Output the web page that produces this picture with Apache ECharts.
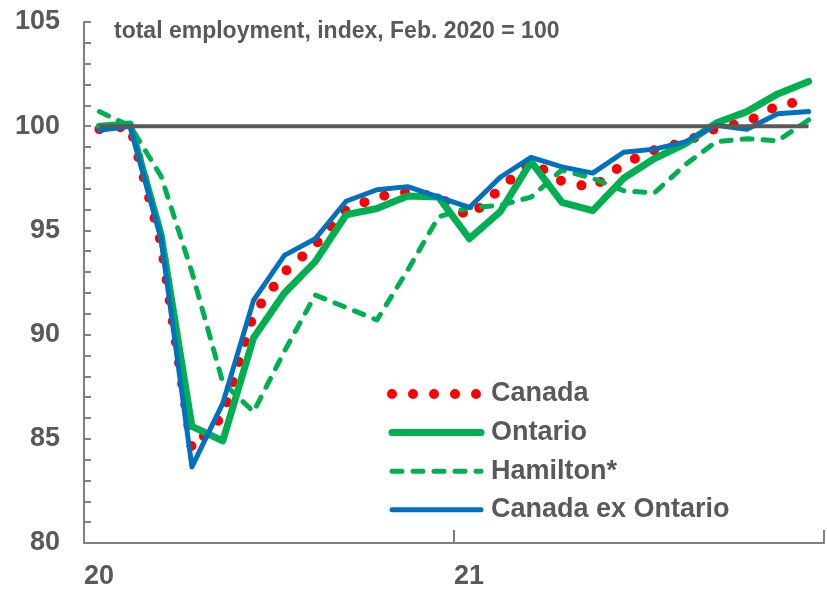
<!DOCTYPE html>
<html>
<head>
<meta charset="utf-8">
<script src="https://cdn.jsdelivr.net/npm/echarts@6/dist/echarts.min.js"></script>
<style>
html,body{margin:0;padding:0;background:#fff;}
#chart{width:827px;height:590px;}
</style>
</head>
<body>
<div id="chart"></div>
<script>
// Monthly categories, Jan 2020 - Dec 2021
var months = ['Jan 20','Feb 20','Mar 20','Apr 20','May 20','Jun 20','Jul 20','Aug 20','Sep 20','Oct 20','Nov 20','Dec 20',
              'Jan 21','Feb 21','Mar 21','Apr 21','May 21','Jun 21','Jul 21','Aug 21','Sep 21','Oct 21','Nov 21','Dec 21'];
// Year labels placed at category boundaries (25 boundaries)
var yearLabels = ['20','','','','','','','','','','','','21','','','','','','','','','','','',''];

var canada    = [99.85,100.0,94.4,84.5,86.1,91.0,93.0,94.3,96.0,96.6,96.85,96.6,95.65,97.0,98.3,97.35,97.05,98.2,98.85,99.25,99.9,100.2,101.0,101.25];
var ontario   = [100.0,100.1,94.8,85.6,84.9,89.85,92.0,93.5,95.75,96.05,96.65,96.6,94.6,95.9,98.3,96.35,95.95,97.5,98.45,99.15,100.15,100.7,101.55,102.15];
var hamilton  = [100.7,100.0,97.6,93.0,87.7,86.3,89.2,91.9,91.3,90.7,93.1,95.65,96.1,96.2,96.6,97.9,97.5,96.9,96.8,98.15,99.25,99.4,99.3,100.3];
var canExOnt  = [99.8,100.0,94.6,83.65,86.7,91.65,93.8,94.6,96.4,96.95,97.1,96.6,96.1,97.55,98.5,98.05,97.75,98.75,98.9,99.25,100.05,99.85,100.6,100.7];
var baseLine  = [100,100,100,100,100,100,100,100,100,100,100,100,100,100,100,100,100,100,100,100,100,100,100,100];

var seriesNames = ['Canada','Ontario','Hamilton*','Canada ex Ontario'];
var titleText = 'total employment, index, Feb. 2020 = 100';

var TXT = '#595959';
var AX = '#808080';
var FONT = '"Liberation Sans", Arial, sans-serif';

var chart = echarts.init(document.getElementById('chart'), null, {renderer:'canvas'});
chart.setOption({
  animation: false,
  backgroundColor: '#ffffff',
  title: {
    text: titleText,
    left: 109, top: 15,
    textStyle: {fontFamily: FONT, fontSize: 23, fontWeight: 'bold', color: TXT}
  },
  grid: {left: 84, right: 2, top: 22, bottom: 47, containLabel: false},
  legend: {
    orient: 'vertical',
    left: 382, top: 375,
    itemWidth: 89, itemHeight: 14, itemGap: 10.6,
    data: seriesNames,
    itemStyle: {opacity: 0},
    lineStyle: {width: 'inherit'},
    textStyle: {fontFamily: FONT, fontSize: 27, fontWeight: 'bold', color: TXT, lineHeight: 28, padding: [0,0,0,5]}
  },
  xAxis: [{
    type: 'category',
    data: months,
    boundaryGap: true,
    position: 'bottom',
    axisLine: {show: true, lineStyle: {color: AX, width: 2}},
    axisTick: {show: true, inside: true, length: 13, interval: function(i){ return i % 12 === 0; }, lineStyle: {color: AX, width: 2}},
    axisLabel: {show: false},
    splitLine: {show: false}
  }, {
    type: 'category',
    data: yearLabels,
    boundaryGap: false,
    position: 'bottom',
    axisLine: {show: false},
    axisTick: {show: false},
    axisLabel: {show: true, interval: 0, align: 'left', margin: 20,
      fontFamily: FONT, fontSize: 27, fontWeight: 'bold', color: TXT},
    splitLine: {show: false}
  }],
  yAxis: {
    type: 'value',
    min: 80, max: 105, interval: 5,
    axisLine: {show: true, lineStyle: {color: AX, width: 2}},
    axisTick: {show: true, inside: true, length: 7, lineStyle: {color: AX, width: 2}},
    minorTick: {show: true, splitNumber: 5, length: 7, lineStyle: {color: AX, width: 2}},
    axisLabel: {margin: 24, fontFamily: FONT, fontSize: 27, fontWeight: 'bold', color: TXT},
    splitLine: {show: false}
  },
  series: [
    {name: 'Canada', type: 'line', xAxisIndex: 0, data: canada, symbol: 'none', z: 2,
     lineStyle: {color: '#FF0000', width: 10, type: [0, 21], cap: 'round', join: 'round'},
     itemStyle: {color: '#FF0000'}},
    {name: 'Ontario', type: 'line', xAxisIndex: 0, data: ontario, symbol: 'none', z: 3,
     lineStyle: {color: '#00B050', width: 7, cap: 'round', join: 'round'},
     itemStyle: {color: '#00B050'}},
    {name: 'Hamilton*', type: 'line', xAxisIndex: 0, data: hamilton, symbol: 'none', z: 4,
     lineStyle: {color: '#00B050', width: 5, type: [10, 11], cap: 'round', join: 'round'},
     itemStyle: {color: '#00B050'}},
    {name: 'Canada ex Ontario', type: 'line', xAxisIndex: 0, data: canExOnt, symbol: 'none', z: 5,
     lineStyle: {color: '#0070C0', width: 5, cap: 'round', join: 'round'},
     itemStyle: {color: '#0070C0'}},
    {name: 'base', type: 'line', xAxisIndex: 0, data: baseLine, symbol: 'none', z: 6, silent: true,
     lineStyle: {color: '#595959', width: 4}}
  ]
});
</script>
</body>
</html>
